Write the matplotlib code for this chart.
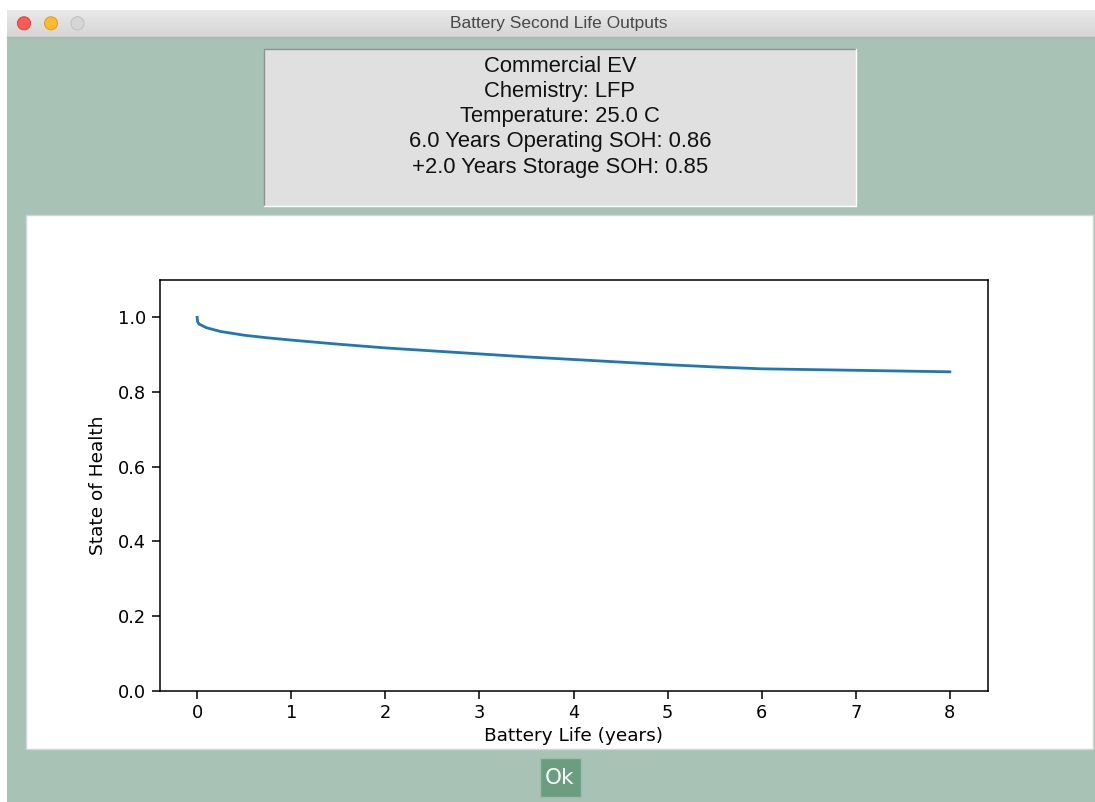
import matplotlib
matplotlib.use("Agg")
import matplotlib.pyplot as plt
from matplotlib.patches import Rectangle, Circle

# Data
years = [0, 0.005, 0.02, 0.1, 0.25, 0.5, 0.75, 1, 1.5, 2, 2.5, 3, 3.5, 4,
         4.5, 5, 5.5, 6, 6.5, 7, 7.5, 8]
soh = [1.0, 0.988, 0.982, 0.972, 0.962, 0.952, 0.945, 0.939, 0.928, 0.918,
       0.910, 0.902, 0.894, 0.887, 0.880, 0.873, 0.867, 0.862, 0.860, 0.858,
       0.856, 0.854]

window_title = "Battery Second Life Outputs"
info_lines = ["Commercial EV", "Chemistry: LFP", "Temperature: 25.0 C",
              "6.0 Years Operating SOH: 0.86", "+2.0 Years Storage SOH: 0.85"]

W, H = 1095, 802
green = "#a8c2b5"

fig = plt.figure(figsize=(W / 100, H / 100), dpi=100)
fig.patch.set_facecolor("white")

# overlay in pixel coordinates for the window chrome
bg = fig.add_axes([0, 0, 1, 1])
bg.set_xlim(0, W)
bg.set_ylim(H, 0)
bg.axis("off")

bg.add_patch(Rectangle((7, 37), W - 7, H - 37, facecolor=green, edgecolor="none"))
# title bar with a simple two-tone gradient
for i in range(27):
    c = 0.91 - 0.075 * i / 26
    bg.add_patch(Rectangle((7, 10 + i), W - 7, 1.05, facecolor=(c, c, c), edgecolor="none"))
bg.plot([7, W], [36.5, 36.5], color="#b4b4b4", lw=1)
bg.text(559, 23.5, window_title, ha="center", va="center", fontsize=12.5,
        color="#484848", family="Liberation Sans")
for cx, fc, ec in [(24, "#fc5b57", "#e0443e"), (51, "#fdbc2f", "#dea123"),
                   (77.5, "#d6d6d6", "#c2c2c2")]:
    bg.add_patch(Circle((cx, 23.3), 6.5, facecolor=fc, edgecolor=ec, lw=0.8))

# info box
bg.add_patch(Rectangle((264, 49), 592, 157, facecolor="#dfe0df", edgecolor="none"))
bg.plot([264, 264, 856], [206, 49, 49], color="#8e948f", lw=1)
bg.plot([264, 856, 856], [206, 206, 49], color="#ffffff", lw=1)
baselines = [72, 97, 122, 147.5, 172.5]
for line, yb in zip(info_lines, baselines):
    bg.text(560, yb, line, ha="center", va="baseline", fontsize=15.8,
            color="#111111", family="Liberation Sans")

# white plot panel
bg.add_patch(Rectangle((26, 215), 1067, 534, facecolor="white",
                       edgecolor="#cdd8d2", lw=1))

# Ok button
bg.add_patch(Rectangle((539.5, 757.5), 41, 39, facecolor="#6b9e80",
                       edgecolor="#9cbfab", lw=1))
bg.text(559.5, 777.5, "Ok", ha="center", va="center", fontsize=15.5,
        color="white", family="DejaVu Sans")

# the chart
left, right, top, bottom = 159.5, 987.5, 280, 690.5
ax = fig.add_axes([left / W, 1 - bottom / H, (right - left) / W, (bottom - top) / H])
ax.plot(years, soh, color="#1f77b4", lw=2)
ax.set_ylim(0, 1.1)
ax.set_xlim(-0.4, 8.4)
ax.set_yticks([0, 0.2, 0.4, 0.6, 0.8, 1.0])
ax.set_xticks(range(0, 9))
ax.tick_params(labelsize=12.8, length=6, width=1.1)
for s in ax.spines.values():
    s.set_linewidth(1.1)
ax.set_xlabel("Battery Life (years)", fontsize=13.3, labelpad=4)
ax.set_ylabel("State of Health", fontsize=13.3, labelpad=8)

fig.savefig("out.png", dpi=100)
